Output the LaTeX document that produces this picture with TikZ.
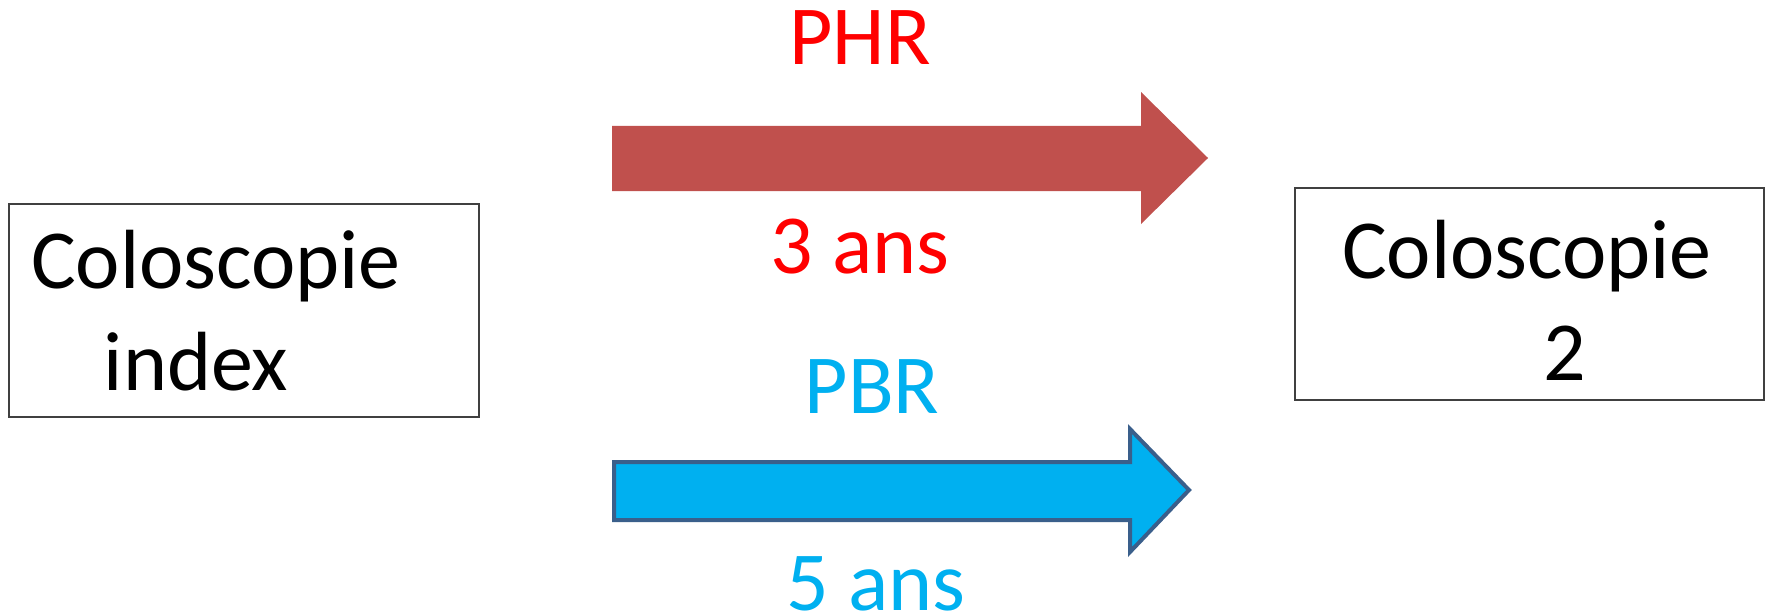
\documentclass[tikz,border=0pt]{standalone}
\usepackage{fontspec}
\setmainfont{Carlito}
\definecolor{phrred}{HTML}{FF0000}
\definecolor{arrowred}{HTML}{C0504D}
\definecolor{pbrblue}{HTML}{00B0F0}
\definecolor{pbredge}{HTML}{3A5F8B}
\tikzset{
  stagebox/.style={draw=black!75, line width=1.3pt},
  bigtext/.style={inner sep=0pt, anchor=base, font=\fontsize{84}{100}\selectfont},
  redlabel/.style={bigtext, text=phrred},
  bluelabel/.style={bigtext, text=pbrblue},
  redarrow/.style={fill=arrowred, draw=none},
  bluearrow/.style={fill=pbrblue, draw=pbredge, line width=4pt, line join=miter},
}
\begin{document}
\begin{tikzpicture}[x=1pt, y=-1pt]
\useasboundingbox (0,0) rectangle (1768,615);

% the two examinations
\draw[stagebox] (9,204) rectangle (479,417);
\node[bigtext] (idx1) at (216,288) {Coloscopie};
\node[bigtext] (idx2) at (196,390) {index};

\draw[stagebox] (1295,188) rectangle (1764,400);
\node[bigtext] (col1) at (1527,278) {Coloscopie};
\node[bigtext] (col2) at (1565,380) {2};

% high-risk path
\draw[redarrow] (612,126) -- (1141,126) -- (1141,92) -- (1208,158)
  -- (1141,224) -- (1141,191) -- (612,191) -- cycle;
\node[redlabel] (phr) at (860,65) {PHR};
\node[redlabel] (ans3) at (860,273) {3 ans};

% low-risk path
\draw[bluearrow] (614,462) -- (1130,462) -- (1130,429) -- (1189,490)
  -- (1130,552) -- (1130,520) -- (614,520) -- cycle;
\node[bluelabel] (pbr) at (872,413) {PBR};
\node[bluelabel] (ans5) at (876,610) {5 ans};
\end{tikzpicture}
\end{document}
